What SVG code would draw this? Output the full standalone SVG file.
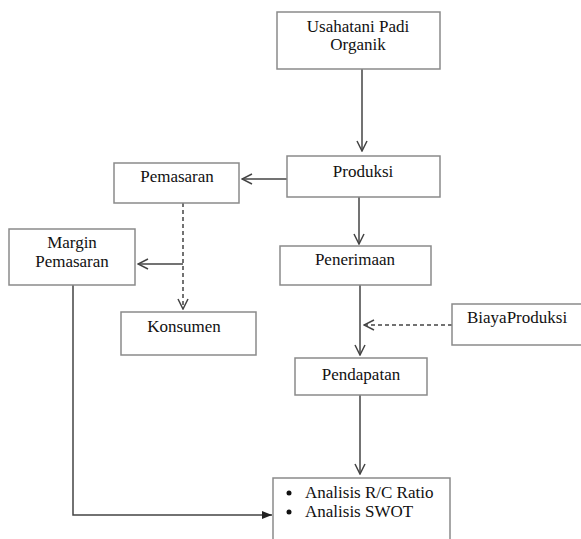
<svg xmlns="http://www.w3.org/2000/svg" width="581" height="539" viewBox="0 0 581 539">
<style>
.box{fill:#fff;stroke:#8a8a8a;stroke-width:1.5}
.t{font-family:"Liberation Serif","Times New Roman",serif;font-size:17px;fill:#111}
.c{text-anchor:middle}
.ln{fill:none;stroke:#444;stroke-width:1.5}
.dash{stroke-dasharray:4 3}
</style>
<defs>
<marker id="open" viewBox="0 0 12 12" refX="11" refY="6" markerWidth="12" markerHeight="12" markerUnits="userSpaceOnUse" orient="auto">
<path d="M1,1 L11,6 L1,11" fill="none" stroke="#444" stroke-width="1.5"/>
</marker>
<marker id="fill" viewBox="0 0 10 10" refX="10" refY="5" markerWidth="10" markerHeight="10" markerUnits="userSpaceOnUse" orient="auto">
<path d="M0,1 L10,5 L0,9 Z" fill="#222"/>
</marker>
</defs>
<g id="connectors">
<line class="ln" x1="362" y1="69" x2="362" y2="151" marker-end="url(#open)"/>
<line class="ln" x1="287" y1="179" x2="242" y2="179" marker-end="url(#open)"/>
<line class="ln dash" x1="183" y1="203" x2="183" y2="309" marker-end="url(#open)"/>
<line class="ln" x1="183" y1="264" x2="138" y2="264" marker-end="url(#open)"/>
<line class="ln" x1="359" y1="197" x2="359" y2="244" marker-end="url(#open)"/>
<line class="ln" x1="360" y1="285" x2="360" y2="355" marker-end="url(#open)"/>
<line class="ln dash" x1="452" y1="325" x2="364" y2="325" marker-end="url(#open)"/>
<line class="ln" x1="360" y1="395" x2="360" y2="474" marker-end="url(#open)"/>
<polyline class="ln" points="73,285 73,515 272,515" marker-end="url(#fill)"/>
</g>
<g id="usahatani">
<rect class="box" x="277" y="12" width="163" height="57"/>
<text class="t c" x="358" y="32">Usahatani Padi</text>
<text class="t c" x="358" y="50">Organik</text>
</g>
<g id="produksi">
<rect class="box" x="287" y="156" width="153" height="41"/>
<text class="t c" x="363" y="177">Produksi</text>
</g>
<g id="pemasaran">
<rect class="box" x="114" y="163" width="125" height="40"/>
<text class="t c" x="177" y="182">Pemasaran</text>
</g>
<g id="margin">
<rect class="box" x="9" y="229" width="126" height="56"/>
<text class="t c" x="72" y="248">Margin</text>
<text class="t c" x="72" y="267">Pemasaran</text>
</g>
<g id="konsumen">
<rect class="box" x="121" y="312" width="135" height="43"/>
<text class="t c" x="184" y="332">Konsumen</text>
</g>
<g id="penerimaan">
<rect class="box" x="280" y="246" width="151" height="39"/>
<text class="t c" x="355" y="265">Penerimaan</text>
</g>
<g id="biaya">
<rect class="box" x="452" y="304" width="135" height="41"/>
<text class="t" x="467" y="323">BiayaProduksi</text>
</g>
<g id="pendapatan">
<rect class="box" x="295" y="358" width="132" height="37"/>
<text class="t c" x="361" y="380">Pendapatan</text>
</g>
<g id="analisis">
<rect class="box" x="273" y="478" width="177" height="70"/>
<circle cx="289" cy="493" r="2.5" fill="#111"/>
<circle cx="289" cy="512" r="2.5" fill="#111"/>
<text class="t" x="305" y="498">Analisis R/C Ratio</text>
<text class="t" x="305" y="517">Analisis SWOT</text>
</g>
</svg>
